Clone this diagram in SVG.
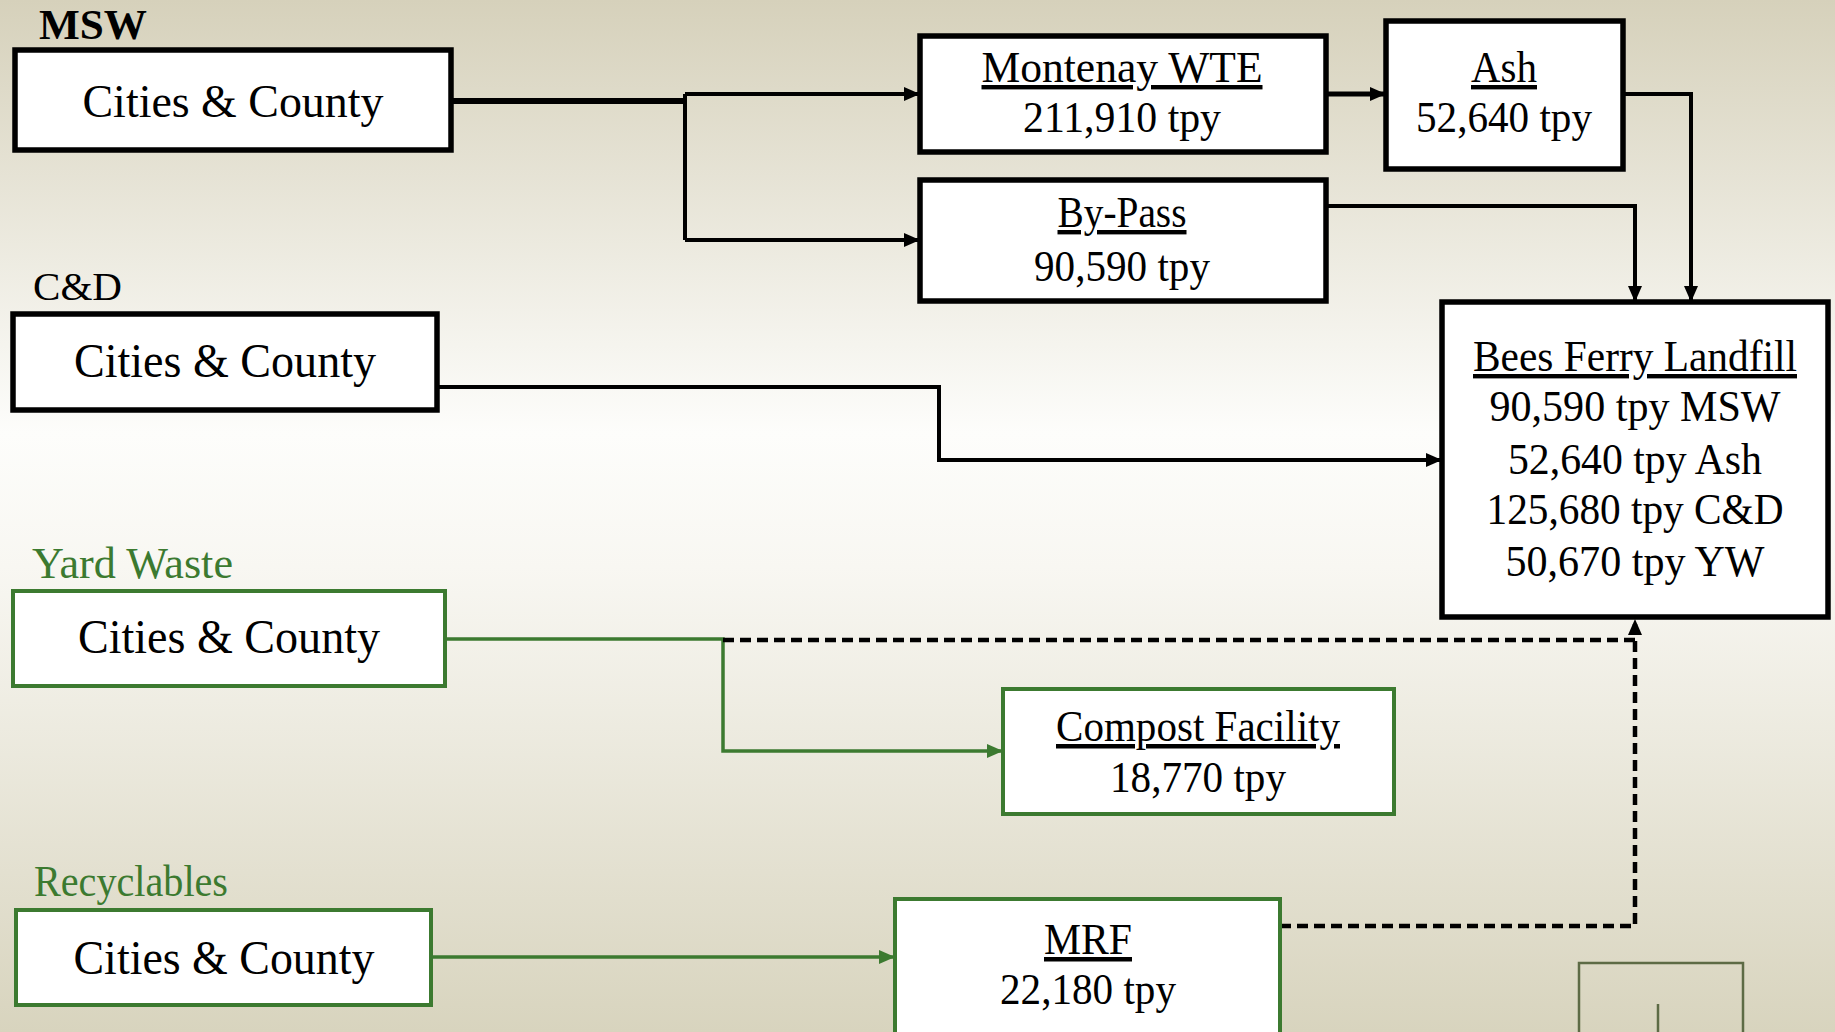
<svg xmlns="http://www.w3.org/2000/svg" width="1835" height="1032" viewBox="0 0 1835 1032">
<defs>
<linearGradient id="bg" x1="0" y1="0" x2="0" y2="1">
<stop offset="0" stop-color="#d6d1bb"/>
<stop offset="0.42" stop-color="#fdfdfb"/>
<stop offset="0.55" stop-color="#f8f7f2"/>
<stop offset="1" stop-color="#d8d4be"/>
</linearGradient>
<marker id="ab" markerUnits="userSpaceOnUse" markerWidth="16" markerHeight="16" refX="16" refY="8" orient="auto">
<path d="M0,1 L16,8 L0,15 z" fill="#000"/>
</marker>
<marker id="ag" markerUnits="userSpaceOnUse" markerWidth="16" markerHeight="16" refX="16" refY="8" orient="auto">
<path d="M0,1 L16,8 L0,15 z" fill="#3c7a30"/>
</marker>
<style>
.t{font-family:"Liberation Serif","Times New Roman",serif;fill:#000;text-anchor:middle}
.lbl{font-family:"Liberation Serif","Times New Roman",serif}
.bb{fill:#fff;stroke:#000;stroke-width:5.5}
.gb{fill:#fff;stroke:#3c7a30;stroke-width:4}
.u{text-decoration:underline}
.cb{fill:none;stroke:#000;stroke-width:4}
.cg{fill:none;stroke:#3c7a30;stroke-width:3.5}
.cd{fill:none;stroke:#000;stroke-width:4.5;stroke-dasharray:11 6}
</style>
</defs>
<rect x="0" y="0" width="1835" height="1032" fill="url(#bg)"/>

<g id="labels">
<text class="lbl" x="39" y="39" font-size="42" font-weight="bold" textLength="108" lengthAdjust="spacingAndGlyphs">MSW</text>
<text class="lbl" x="33" y="300" font-size="41" textLength="89" lengthAdjust="spacingAndGlyphs">C&amp;D</text>
<text class="lbl" x="32" y="578" font-size="44" fill="#3c7a30" textLength="201" lengthAdjust="spacingAndGlyphs">Yard Waste</text>
<text class="lbl" x="34" y="896" font-size="44" fill="#3c7a30" textLength="194" lengthAdjust="spacingAndGlyphs">Recyclables</text>
</g>

<g id="connectors">
<path d="M451,101 H685" fill="none" stroke="#000" stroke-width="6"/>
<path class="cb" d="M685,94 V240"/>
<path class="cb" d="M685,94 H920" marker-end="url(#ab)"/>
<path class="cb" d="M685,240 H920" marker-end="url(#ab)"/>
<path d="M1326,94 H1386" fill="none" stroke="#000" stroke-width="5" marker-end="url(#ab)"/>
<path class="cb" d="M1623,94 H1691 V302" marker-end="url(#ab)"/>
<path class="cb" d="M1326,206 H1635 V302" marker-end="url(#ab)"/>
<path class="cb" d="M437,387 H939 V460 H1442" marker-end="url(#ab)"/>
<path class="cg" d="M445,639 H723 V751 H1003" marker-end="url(#ag)"/>
<path class="cd" d="M723,640 H1635"/>
<path class="cd" d="M1280,926 H1635 V619" marker-end="url(#ab)"/>
<path class="cg" d="M431,957 H895" marker-end="url(#ag)"/>
</g>

<g id="msw-source">
<rect class="bb" x="15" y="50" width="436" height="100"/>
<text class="t" x="233" y="117" font-size="46" textLength="301" lengthAdjust="spacingAndGlyphs">Cities &amp; County</text>
</g>
<g id="cd-source">
<rect class="bb" x="13" y="314" width="424" height="96"/>
<text class="t" x="225" y="377" font-size="48" textLength="302" lengthAdjust="spacingAndGlyphs">Cities &amp; County</text>
</g>
<g id="yw-source">
<rect class="gb" x="13" y="591" width="432" height="95"/>
<text class="t" x="229" y="653" font-size="48" textLength="302" lengthAdjust="spacingAndGlyphs">Cities &amp; County</text>
</g>
<g id="rec-source">
<rect class="gb" x="16" y="910" width="415" height="95"/>
<text class="t" x="224" y="974" font-size="48" textLength="301" lengthAdjust="spacingAndGlyphs">Cities &amp; County</text>
</g>

<g id="montenay">
<rect class="bb" x="920" y="36" width="406" height="116"/>
<text class="t u" x="1122" y="82" font-size="44" textLength="281" lengthAdjust="spacingAndGlyphs">Montenay WTE</text>
<text class="t" x="1122" y="132" font-size="44" textLength="198" lengthAdjust="spacingAndGlyphs">211,910 tpy</text>
</g>
<g id="bypass">
<rect class="bb" x="920" y="180" width="406" height="121"/>
<text class="t u" x="1122" y="227" font-size="44" textLength="129" lengthAdjust="spacingAndGlyphs">By-Pass</text>
<text class="t" x="1122" y="281" font-size="44" textLength="176" lengthAdjust="spacingAndGlyphs">90,590 tpy</text>
</g>
<g id="ash">
<rect class="bb" x="1386" y="21" width="237" height="148"/>
<text class="t u" x="1504" y="82" font-size="44" textLength="66" lengthAdjust="spacingAndGlyphs">Ash</text>
<text class="t" x="1504" y="132" font-size="44" textLength="176" lengthAdjust="spacingAndGlyphs">52,640 tpy</text>
</g>
<g id="landfill">
<rect class="bb" x="1442" y="302" width="386" height="315"/>
<text class="t u" x="1635" y="371" font-size="44" textLength="324" lengthAdjust="spacingAndGlyphs">Bees Ferry Landfill</text>
<text class="t" x="1635" y="421" font-size="44" textLength="291" lengthAdjust="spacingAndGlyphs">90,590 tpy MSW</text>
<text class="t" x="1635" y="474" font-size="44" textLength="254" lengthAdjust="spacingAndGlyphs">52,640 tpy Ash</text>
<text class="t" x="1635" y="524" font-size="44" textLength="297" lengthAdjust="spacingAndGlyphs">125,680 tpy C&amp;D</text>
<text class="t" x="1635" y="576" font-size="44" textLength="259" lengthAdjust="spacingAndGlyphs">50,670 tpy YW</text>
</g>
<g id="compost">
<rect class="gb" x="1003" y="689" width="391" height="125"/>
<text class="t u" x="1198" y="741" font-size="45" textLength="284" lengthAdjust="spacingAndGlyphs">Compost Facility</text>
<text class="t" x="1198" y="792" font-size="45" textLength="176" lengthAdjust="spacingAndGlyphs">18,770 tpy</text>
</g>
<g id="mrf">
<rect class="gb" x="895" y="899" width="385" height="150"/>
<text class="t u" x="1088" y="954" font-size="45" textLength="88" lengthAdjust="spacingAndGlyphs">MRF</text>
<text class="t" x="1088" y="1004" font-size="45" textLength="176" lengthAdjust="spacingAndGlyphs">22,180 tpy</text>
</g>

<g id="corner-shape">
<rect x="1579" y="963" width="164" height="90" fill="none" stroke="#5d6b45" stroke-width="2.5"/>
<line x1="1658" y1="1004" x2="1658" y2="1032" stroke="#5d6b45" stroke-width="2.5"/>
</g>
</svg>
